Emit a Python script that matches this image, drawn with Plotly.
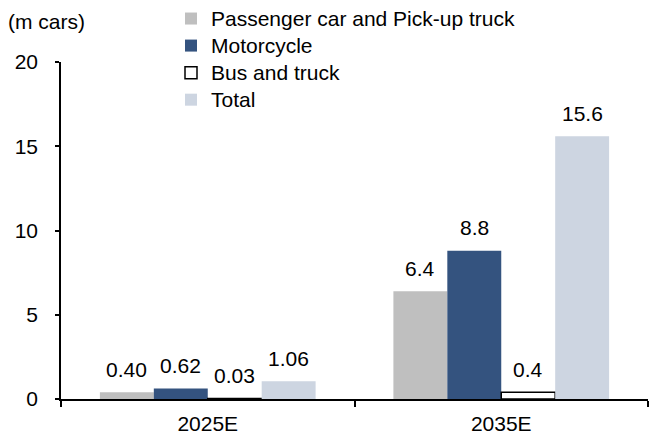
import plotly.graph_objects as go

categories = ["2025E", "2035E"]
series_names = ["Passenger car and Pick-up truck", "Motorcycle", "Bus and truck", "Total"]
passenger = [0.40, 6.4]
motorcycle = [0.62, 8.8]
bus_truck = [0.03, 0.4]
total = [1.06, 15.6]
labels = {
    "Passenger car and Pick-up truck": ["0.40", "6.4"],
    "Motorcycle": ["0.62", "8.8"],
    "Bus and truck": ["0.03", "0.4"],
    "Total": ["1.06", "15.6"],
}
y_ticks = [0, 5, 10, 15, 20]
unit_label = "(m cars)"

values = [passenger, motorcycle, bus_truck, total]
fills = ["#BFBFBF", "#34537F", "#FFFFFF", "#CDD5E1"]
lines = ["#BFBFBF", "#34537F", "#000000", "#CDD5E1"]
line_w = [0, 0, 1.5, 0]

FONT = "Liberation Sans, Arial, sans-serif"
FS = 21
W, H = 651, 441
bargap = 0.265

fig = go.Figure()
for name, vals, fc, lc, lw in zip(series_names, values, fills, lines, line_w):
    fig.add_trace(go.Bar(
        name=f'<span style="font-size:{FS}px">{name}</span>', x=categories, y=vals,
        marker=dict(color=fc, line=dict(color=lc, width=lw)),
    ))

n = len(series_names)
bw = (1 - bargap) / n
for i, (name, vals) in enumerate(zip(series_names, values)):
    for j, v in enumerate(vals):
        fig.add_annotation(
            x=j + (i - (n - 1) / 2) * bw, y=v, xref="x", yref="y",
            text=labels[name][j], showarrow=False,
            yanchor="middle", yshift=23,
            font=dict(family=FONT, size=FS, color="#000000"),
        )

fig.update_layout(
    width=W, height=H,
    margin=dict(l=61, r=3, t=62, b=42, autoexpand=False),
    paper_bgcolor="white", plot_bgcolor="white",
    barmode="group", bargap=bargap, bargroupgap=0,
    font=dict(family=FONT, size=FS, color="#000000"),
    title=dict(
        text=unit_label, xref="container", yref="container",
        x=8 / W, y=1 - 22 / H, xanchor="left", yanchor="middle",
        font=dict(family=FONT, size=FS, color="#000000"),
    ),
    showlegend=True,
    legend=dict(
        x=171 / W, y=1 + 4 / H, xref="container", yref="container",
        xanchor="left", yanchor="top",
        bgcolor="rgba(0,0,0,0)", font=dict(family=FONT, size=18.5),
        traceorder="normal", itemclick=False,
    ),
)

fig.update_xaxes(
    showline=True, linecolor="#000000", linewidth=1.5,
    ticks="outside", tickson="boundaries", ticklen=6, tickcolor="#000000", tickwidth=1.5,
    showgrid=False, ticklabelstandoff=5,
    tickfont=dict(family=FONT, size=FS),
)
fig.update_yaxes(
    range=[0, 20], tickvals=y_ticks, showline=True, linecolor="#000000", linewidth=1.5,
    ticks="outside", ticklen=4, tickcolor="#000000", tickwidth=1.5,
    showgrid=False, zeroline=False, ticklabelstandoff=13,
    tickfont=dict(family=FONT, size=FS),
)

fig.write_html("out.html", config={"displayModeBar": False},
               post_script="document.body.style.margin='0';")
